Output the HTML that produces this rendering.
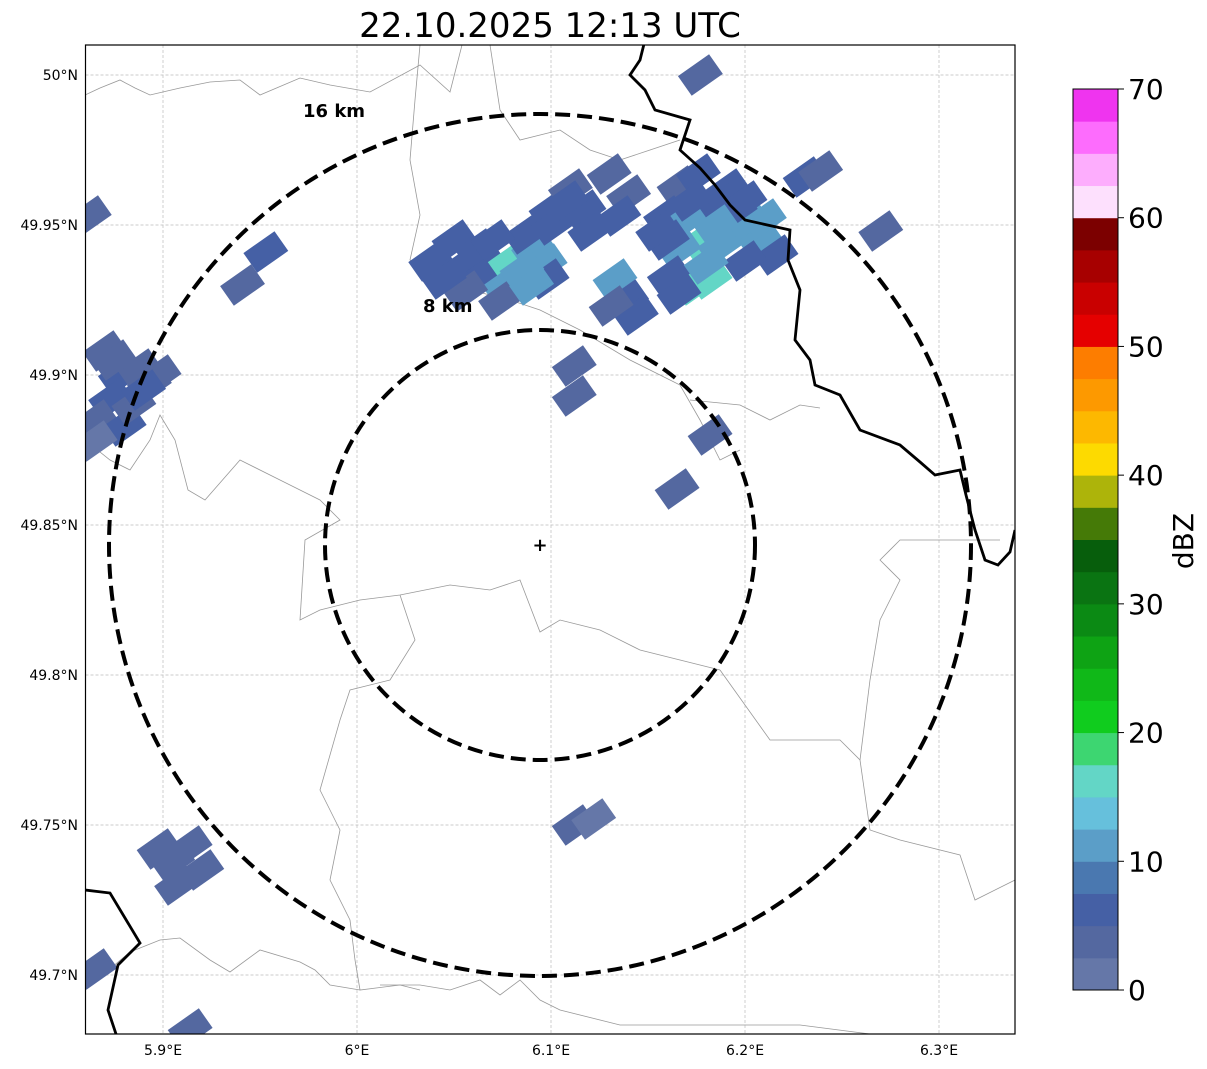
<!DOCTYPE html>
<html><head><meta charset="utf-8"><style>
body{margin:0;background:#fff;}
svg{display:block;font-family:"DejaVu Sans","Liberation Sans",sans-serif;}
</style></head><body>
<svg id="c" width="1207" height="1069" xmlns="http://www.w3.org/2000/svg"></svg>
<script>
const lonTicks=[5.9,6.0,6.1,6.2,6.3];
const lonLabels=["5.9°E","6°E","6.1°E","6.2°E","6.3°E"];
const latTicks=[50.0,49.95,49.9,49.85,49.8,49.75,49.7];
const latLabels=["50°N","49.95°N","49.9°N","49.85°N","49.8°N","49.75°N","49.7°N"];
const cbTicks=[0,10,20,30,40,50,60,70];
const cbColors=["#6577a8","#5468a0","#4560a5","#4a78b0","#5b9ec8","#66c0dc","#63d6c6","#3dd671","#10cc1e","#10b818","#0ea314","#0b8a14","#0a7412","#075e0c","#457a07","#adb40a","#fdda00","#fdb800","#fd9900","#fd7d00","#e50000","#c90000","#a70000","#7c0000","#fde0fd","#fdadfd","#fd6cfd","#ef34ef"];
const cellLon=[5.870,5.878,5.888,5.893,5.873,5.865,5.880,5.865,5.898,5.862,5.953,5.941,6.038,6.050,6.058,6.068,6.079,6.076,6.091,6.097,6.098,6.074,6.087,6.100,6.110,6.101,6.117,6.130,6.140,6.135,6.056,6.133,6.139,6.144,6.131,6.166,6.176,6.191,6.159,6.170,6.178,6.166,6.187,6.203,6.208,6.216,6.200,6.161,6.174,6.182,6.166,6.187,6.231,6.239,6.177,6.270,6.112,6.112,6.182,6.165,6.112,6.122,5.898,5.914,5.920,5.907,5.865,5.914,
6.045,6.062,6.085,6.108,6.120,6.172,6.195,6.180,6.160,6.210,5.885,5.875,5.905,5.890,6.070,6.090,6.155,6.200,6.185];
const cellLat=[49.908,49.900,49.902,49.897,49.892,49.885,49.883,49.878,49.900,49.953,49.941,49.930,49.938,49.945,49.938,49.935,49.938,49.930,49.942,49.937,49.932,49.925,49.947,49.955,49.962,49.950,49.955,49.967,49.960,49.953,49.928,49.932,49.925,49.920,49.923,49.963,49.967,49.962,49.953,49.952,49.945,49.942,49.943,49.950,49.945,49.940,49.938,49.933,49.930,49.932,49.927,49.957,49.966,49.968,50.000,49.948,49.903,49.893,49.880,49.862,49.750,49.752,49.742,49.743,49.735,49.730,49.702,49.682,
49.932,49.942,49.935,49.958,49.948,49.958,49.955,49.937,49.945,49.952,49.890,49.905,49.738,49.895,49.945,49.930,49.948,49.958,49.950];
const cellDbz=[3,5,3,3,5,3,5,2,3,3,5,3,5,5,7,5,15,10,10,12,5,3,5,5,3,7,5,3,3,5,3,12,5,5,3,3,5,5,5,10,15,12,10,12,10,5,7,5,17,16,5,5,5,3,3,3,3,3,3,3,3,2,3,3,3,3,3,3,
5,7,10,5,7,5,5,12,7,12,3,3,3,5,7,10,5,5,10];

const L=85.5,T=45,R=1015,B=1034;
const X=lon=>357+(lon-6.0)*1940;
const Y=lat=>75+(50.0-lat)*3000;
const NS="http://www.w3.org/2000/svg";
const svg=document.getElementById('c');
function mk(tag,attrs,parent){const e=document.createElementNS(NS,tag);for(const k in attrs)e.setAttribute(k,attrs[k]);(parent||svg).appendChild(e);return e;}
function col(v){return cbColors[Math.max(0,Math.min(27,Math.floor(v/2.5)))];}

const defs=mk('defs',{});const cp=mk('clipPath',{id:'pc'},defs);mk('rect',{x:L,y:T,width:R-L,height:B-T},cp);
const plot=mk('g',{'clip-path':'url(#pc)'});



lonTicks.forEach(v=>{const g=mk('line',{x1:X(v),x2:X(v),y1:T,y2:B,stroke:'#bbb','stroke-width':0.7,'stroke-dasharray':'3,2'},plot);

});
latTicks.forEach(v=>{const g=mk('line',{x1:L,x2:R,y1:Y(v),y2:Y(v),stroke:'#bbb','stroke-width':0.7,'stroke-dasharray':'3,2'},plot);

});

const admin=[
"85,95 100,88 120,80 135,88 150,95 180,88 210,82 240,80 260,95 300,78 330,85 370,92 420,65 450,92 462,45",
"420,45 415,100 410,160 420,215 410,260 440,280 470,290 510,300 540,310 580,330 630,360 680,385 700,420 720,460 740,450",
"85,440 110,460 130,470 150,440 160,415 175,440 188,490 205,500 240,460 280,480 320,500 340,520 305,540 300,620 320,610 360,600 400,595 450,585 490,590 520,580 540,632 560,620 600,630 640,650 680,660 720,670",
"400,595 415,640 390,680 350,690 340,720 320,790 340,830 330,880 350,920 355,960 360,990 400,985 420,990",
"85,990 130,952 160,940 180,938 210,960 230,972 260,950 300,962 315,970 330,985 360,990",
"380,985 420,985 450,990 480,980 500,995 520,980 540,1000 560,1010 620,1025 700,1025 800,1025 870,1034",
"720,670 770,740 840,740 860,760 870,830 900,840 960,855 975,900 1015,880",
"1000,540 900,540 880,560 900,580 880,620 870,680 865,720 860,760",
"690,400 740,405 770,420 800,405 820,408",
"490,45 500,110 520,140 560,130 590,150 620,160 650,150 680,140"];
admin.forEach(p=>{const e=mk('polyline',{points:p,fill:'none',stroke:'#999','stroke-width':0.8},plot);

});

cellLon.forEach((lon,i)=>{const cx=X(lon),cy=Y(cellLat[i]);
const r=mk('rect',{x:cx-19,y:cy-12,width:38,height:24,fill:col(cellDbz[i]),transform:`rotate(-35 ${cx} ${cy})`},plot);

});

const nat=["645,40 640,60 630,75 645,90 655,110 690,120 680,150 700,168 715,185 730,205 745,220 790,230 788,260 800,290 795,340 810,360 815,385 840,395 860,430 900,445 920,462 935,475 960,470 966,495 975,530 985,560 998,565 1010,552 1015,530",
"85,890 110,893 140,943 118,965 108,1010 118,1040"];
nat.forEach(p=>{const e=mk('polyline',{points:p,fill:'none',stroke:'#000','stroke-width':2.8},plot);

});

const ring8=mk('circle',{cx:540,cy:545,r:215,fill:'none',stroke:'#000','stroke-width':4,'stroke-dasharray':'15,7'},plot);


const ring16=mk('circle',{cx:540,cy:545,r:431,fill:'none',stroke:'#000','stroke-width':4,'stroke-dasharray':'15,7'},plot);


const rm=mk('text',{x:540,y:551,'text-anchor':'middle','font-size':18,'font-weight':'bold'},plot);rm.textContent='+';


const l16=mk('text',{x:303,y:117,'font-size':18,'font-weight':'bold'});l16.textContent='16 km';


const l8=mk('text',{x:423,y:312,'font-size':18,'font-weight':'bold'});l8.textContent='8 km';



const fr=mk('rect',{x:L,y:T,width:R-L,height:B-T,fill:'none',stroke:'#000','stroke-width':1.2});



lonTicks.forEach((v,i)=>{const t=mk('text',{x:X(v),y:1055,'text-anchor':'middle','font-size':14});t.textContent=lonLabels[i];

});
latTicks.forEach((v,i)=>{const t=mk('text',{x:78,y:Y(v)+5,'text-anchor':'end','font-size':14});t.textContent=latLabels[i];

});

const ti=mk('text',{x:550,y:37,'text-anchor':'middle','font-size':34});ti.textContent='22.10.2025 12:13 UTC';



const cbX=1073,cbW=45,cbTop=89,cbBot=990;
const cbY=v=>cbBot-(v/70)*(cbBot-cbTop);
cbColors.forEach((c,i)=>{const r=mk('rect',{x:cbX,y:cbY((i+1)*2.5),width:cbW,height:cbY(i*2.5)-cbY((i+1)*2.5)+0.5,fill:c});

});
const cbf=mk('rect',{x:cbX,y:cbTop,width:cbW,height:cbBot-cbTop,fill:'none',stroke:'#000','stroke-width':1});


cbTicks.forEach(v=>{mk('line',{x1:cbX+cbW,x2:cbX+cbW+6,y1:cbY(v),y2:cbY(v),stroke:'#000'});
const t=mk('text',{x:1128,y:cbY(v)+10,'font-size':28});t.textContent=v;

});
const cbl=mk('text',{x:1193,y:541,'text-anchor':'middle','font-size':28,transform:'rotate(-90 1193 541)'});cbl.textContent='dBZ';


</script>
</body></html>
